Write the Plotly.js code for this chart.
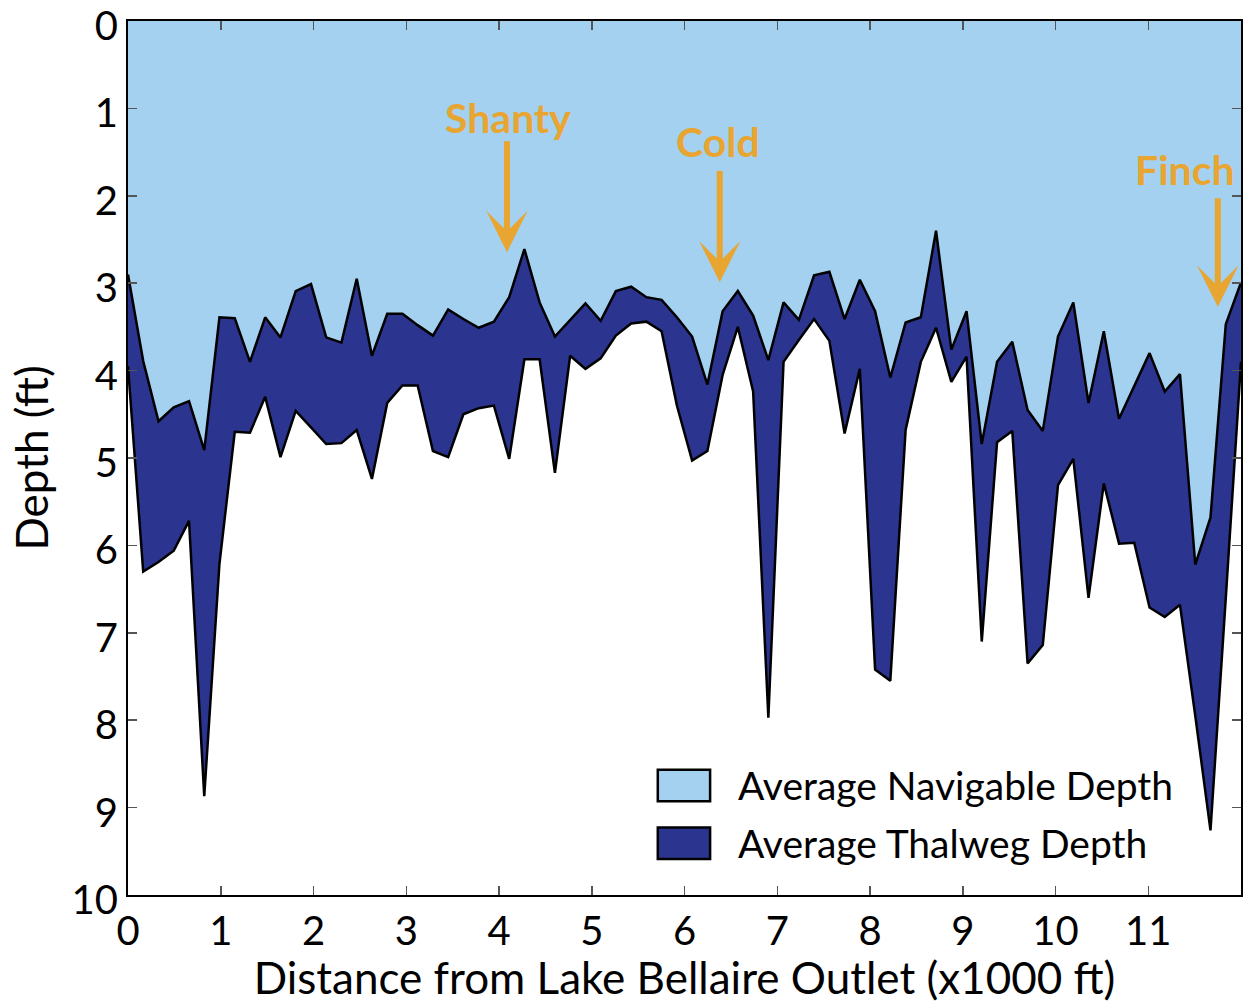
<!DOCTYPE html>
<html>
<head>
<meta charset="utf-8">
<script src="https://cdn.plot.ly/plotly-3.0.1.min.js"></script>
<style>html,body{margin:0;padding:0;background:#fff;} #chart{width:1244px;height:1003px;}</style>
</head>
<body>
<div id="chart"></div>
<script>
// Distance from Lake Bellaire Outlet (x1000 ft)
const distance = [0, 0.164, 0.329, 0.493, 0.658, 0.822, 0.986, 1.151, 1.315, 1.479,
  1.644, 1.808, 1.973, 2.137, 2.301, 2.466, 2.630, 2.795, 2.959, 3.123,
  3.288, 3.452, 3.616, 3.781, 3.945, 4.110, 4.274, 4.438, 4.603, 4.767,
  4.932, 5.096, 5.260, 5.425, 5.589, 5.753, 5.918, 6.082, 6.247, 6.411,
  6.575, 6.740, 6.904, 7.068, 7.233, 7.397, 7.562, 7.726, 7.890, 8.055,
  8.219, 8.384, 8.548, 8.712, 8.877, 9.041, 9.205, 9.370, 9.534, 9.699,
  9.863, 10.027, 10.192, 10.356, 10.521, 10.685, 10.849, 11.014, 11.178, 11.342,
  11.507, 11.671, 11.836, 12.0];

// Average Navigable Depth (ft)
const navigableDepth = [2.90, 3.89, 4.58, 4.42, 4.35, 4.91, 3.39, 3.40, 3.90, 3.39,
  3.62, 3.09, 3.01, 3.62, 3.68, 2.95, 3.83, 3.35, 3.35, 3.48,
  3.60, 3.30, 3.41, 3.51, 3.44, 3.16, 2.61, 3.22, 3.61, 3.42,
  3.23, 3.43, 3.09, 3.04, 3.16, 3.19, 3.39, 3.61, 4.16, 3.32,
  3.09, 3.37, 3.88, 3.22, 3.42, 2.91, 2.87, 3.41, 2.96, 3.32,
  4.08, 3.45, 3.39, 2.40, 3.76, 3.32, 4.84, 3.90, 3.67, 4.45,
  4.69, 3.61, 3.22, 4.37, 3.55, 4.55, 4.18, 3.80, 4.24, 4.04,
  6.22, 5.68, 3.47, 2.99];

// Average Thalweg Depth (ft)
const thalwegDepth = [3.95, 6.30, 6.19, 6.06, 5.72, 8.87, 6.21, 4.70, 4.71, 4.30,
  4.99, 4.46, 4.65, 4.84, 4.83, 4.68, 5.24, 4.37, 4.17, 4.17,
  4.92, 4.99, 4.50, 4.43, 4.40, 5.01, 3.87, 3.87, 5.17, 3.83,
  3.98, 3.86, 3.60, 3.46, 3.44, 3.55, 4.40, 5.03, 4.92, 4.05,
  3.50, 4.24, 7.97, 3.90, 3.65, 3.41, 3.66, 4.72, 3.98, 7.42,
  7.55, 4.68, 3.90, 3.51, 4.13, 3.84, 7.10, 4.82, 4.69, 7.35,
  7.14, 5.31, 5.01, 6.60, 5.29, 5.98, 5.97, 6.71, 6.82, 6.68,
  7.95, 9.26, 6.60, 3.90];

const xTickVals = [0, 1, 2, 3, 4, 5, 6, 7, 8, 9, 10, 11];
const yTickVals = [0, 1, 2, 3, 4, 5, 6, 7, 8, 9, 10];

const seriesNames = ['Average Navigable Depth', 'Average Thalweg Depth'];
const bridgeNames = ['Shanty', 'Cold', 'Finch'];
const bridgeX = [4.086, 6.38, 11.75];
const bridgeTipY = [2.645, 2.99, 3.27];

const LIGHT = '#A3D1EF';
const DARK = '#2B3590';
const ORANGE = '#E8A531';
const FONT = 'Lato, "Open Sans", sans-serif';

const traces = [
  {x: distance, y: navigableDepth, name: seriesNames[0], type: 'scatter', mode: 'lines',
   fill: 'tozeroy', fillcolor: LIGHT, line: {color: '#000', width: 2.5}, showlegend: false},
  {x: distance, y: thalwegDepth, name: seriesNames[1], type: 'scatter', mode: 'lines',
   fill: 'tonexty', fillcolor: DARK, line: {color: '#000', width: 2.5}, showlegend: false}
];

const annotations = [];
const textY = [1.10, 1.38, 1.70];
const tailY = [1.36, 1.70, 2.01];
const textX = [4.10, 6.36, 11.40];
bridgeNames.forEach((nm, i) => {
  annotations.push({x: textX[i], y: textY[i], xref: 'x', yref: 'y', text: '<b>' + nm + '</b>',
    showarrow: false, font: {family: FONT, size: 41, color: ORANGE}, xanchor: 'center', yanchor: 'middle'});
  annotations.push({x: bridgeX[i], y: bridgeTipY[i], xref: 'x', yref: 'y', ax: bridgeX[i], ay: tailY[i],
    axref: 'x', ayref: 'y', text: '', showarrow: true, arrowhead: 3, arrowsize: 1.15, arrowwidth: 6,
    arrowcolor: ORANGE, standoff: 0});
});
// legend
const legColors = [LIGHT, DARK];
const legY = [0.1254, 0.0593];
const shapes = [];
legColors.forEach((c, i) => {
  shapes.push({type: 'rect', xref: 'paper', yref: 'paper', x0: 0.476, x1: 0.523,
    y0: legY[i] - 0.018, y1: legY[i] + 0.018, fillcolor: c, line: {color: '#000', width: 2.5}});
  annotations.push({xref: 'paper', yref: 'paper', x: 0.546, y: legY[i], text: seriesNames[i],
    showarrow: false, xanchor: 'left', yanchor: 'middle', font: {family: FONT, size: 39, color: '#000'}});
});

const layout = {
  width: 1244, height: 1003,
  margin: {l: 128, r: 3, t: 21, b: 108},
  paper_bgcolor: '#fff', plot_bgcolor: '#fff',
  font: {family: FONT, color: '#000'},
  xaxis: {range: [0, 12], tickvals: xTickVals, ticktext: xTickVals.map(String),
    ticks: 'inside', ticklen: 9, tickwidth: 1.5, tickcolor: '#555',
    showline: true, linecolor: '#000', linewidth: 2, mirror: 'ticks',
    showgrid: false, zeroline: false, tickfont: {family: FONT, size: 40},
    ticklabeloverflow: 'allow',
    title: {text: 'Distance from Lake Bellaire Outlet (x1000 ft)', font: {family: FONT, size: 44}, standoff: 4}},
  yaxis: {range: [10, 0], tickvals: yTickVals, ticktext: yTickVals.map(String),
    ticks: 'inside', ticklen: 9, tickwidth: 1.5, tickcolor: '#555',
    showline: true, linecolor: '#000', linewidth: 2, mirror: 'ticks',
    showgrid: false, zeroline: false, tickfont: {family: FONT, size: 40},
    ticklabeloverflow: 'allow', ticklabelshift: -5,
    title: {text: 'Depth (ft)', font: {family: FONT, size: 44}, standoff: 9}},
  annotations: annotations,
  shapes: shapes
};

Plotly.newPlot('chart', traces, layout, {displayModeBar: false, staticPlot: true});
</script>
</body>
</html>
